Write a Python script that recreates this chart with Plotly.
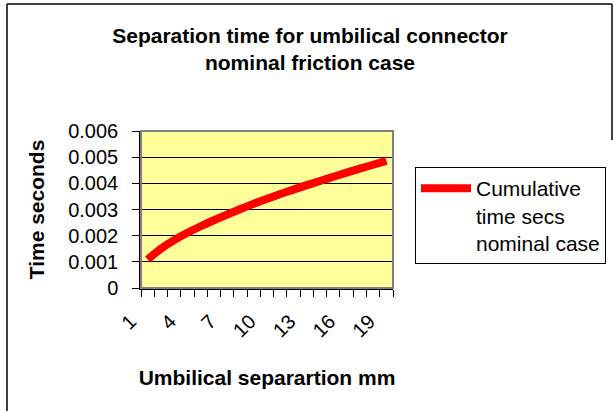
import plotly.graph_objects as go

# ---- data ----
separation_mm = list(range(1, 20))
cumulative_time_s = [0.00109, 0.00150, 0.00183, 0.00211, 0.00236, 0.00259, 0.00281,
                     0.00302, 0.00322, 0.00341, 0.00359, 0.00376, 0.00393, 0.00409,
                     0.00425, 0.00441, 0.00456, 0.00471, 0.00486]
x_tick_vals = [1, 4, 7, 10, 13, 16, 19]
x_tick_text = ["1", "4", "7", "10", "13", "16", "19"]
y_tick_vals = [0, 0.001, 0.002, 0.003, 0.004, 0.005, 0.006]
y_tick_text = ["0", "0.001", "0.002", "0.003", "0.004", "0.005", "0.006"]
series_name = "Cumulative<br>time secs<br>nominal case"
title_text = "Separation time for umbilical connector<br>nominal friction case"
x_title = "Umbilical separartion mm"
y_title = "Time seconds"

# ---- layout geometry (pixels) ----
W, H = 615, 411
PL, PR, PT, PB = 141, 393, 131, 288
pw, ph = PR - PL, PB - PT

def px(x):
    return (x - PL) / pw

def py(y):
    return (PB - y) / ph

FONT = "Arial, Liberation Sans, sans-serif"

fig = go.Figure()
fig.add_trace(go.Scatter(
    x=separation_mm, y=cumulative_time_s, mode="lines", name=series_name,
    line=dict(color="#FF0000", width=8, shape="spline", smoothing=0.6),
    showlegend=True,
))

shapes = [
    # plot area border (gray)
    dict(type="rect", xref="paper", yref="paper", x0=0, x1=1, y0=0, y1=1,
         line=dict(color="#808080", width=2), layer="above"),
    # outer chart border
    dict(type="line", xref="paper", yref="paper", x0=px(7), x1=px(7), y0=py(4), y1=py(420),
         line=dict(color="black", width=1.5)),
    dict(type="line", xref="paper", yref="paper", x0=px(7), x1=px(612), y0=py(4), y1=py(4),
         line=dict(color="black", width=1.5)),
    dict(type="line", xref="paper", yref="paper", x0=px(612), x1=px(612), y0=py(4), y1=py(140),
         line=dict(color="black", width=1.5)),
]

fig.update_layout(
    width=W, height=H,
    margin=dict(l=PL, r=W - PR, t=PT, b=H - PB, autoexpand=False),
    paper_bgcolor="white", plot_bgcolor="#FFFF99",
    font=dict(family=FONT, size=20, color="black"),
    title=dict(text="<b>" + title_text + "</b>", x=310 / W, xref="container", xanchor="center",
               y=1 - 43 / H, yref="container", yanchor="top",
               font=dict(family=FONT, size=21, color="black")),
    xaxis=dict(range=[0.5, 19.5], tickmode="array", tickvals=x_tick_vals, ticktext=x_tick_text,
               ticks="", tickangle=-45, showgrid=False, zeroline=False,
               showline=True, linecolor="black", linewidth=1.5,
               ticklabelshift=-17, ticklabelstandoff=12,
               tickfont=dict(family=FONT, size=20),
               minor=dict(ticks="outside", ticklen=7, tickcolor="black", tickwidth=1,
                          tickmode="linear", tick0=0.5, dtick=1, showgrid=False),
               title=dict(text="<b>" + x_title + "</b>", standoff=30,
                          font=dict(family=FONT, size=21))),
    yaxis=dict(range=[0, 0.006], tickmode="array", tickvals=y_tick_vals, ticktext=y_tick_text,
               ticks="outside", ticklen=7, tickcolor="black", tickwidth=1,
               showgrid=True, gridcolor="black", gridwidth=1, zeroline=False,
               showline=True, linecolor="black", linewidth=1.5,
               ticklabelstandoff=10,
               tickfont=dict(family=FONT, size=20),
               title=dict(text="<b>" + y_title + "</b>", standoff=18,
                          font=dict(family=FONT, size=21))),
    legend=dict(x=px(415), y=py(167), xanchor="left", yanchor="top",
                bordercolor="black", borderwidth=1, bgcolor="white",
                valign="top", font=dict(family=FONT, size=21),
                itemwidth=50),
    shapes=shapes,
)

fig.write_html("out.html", config={"displayModeBar": False},
               post_script="document.body.style.margin='0';document.body.style.padding='0';")
